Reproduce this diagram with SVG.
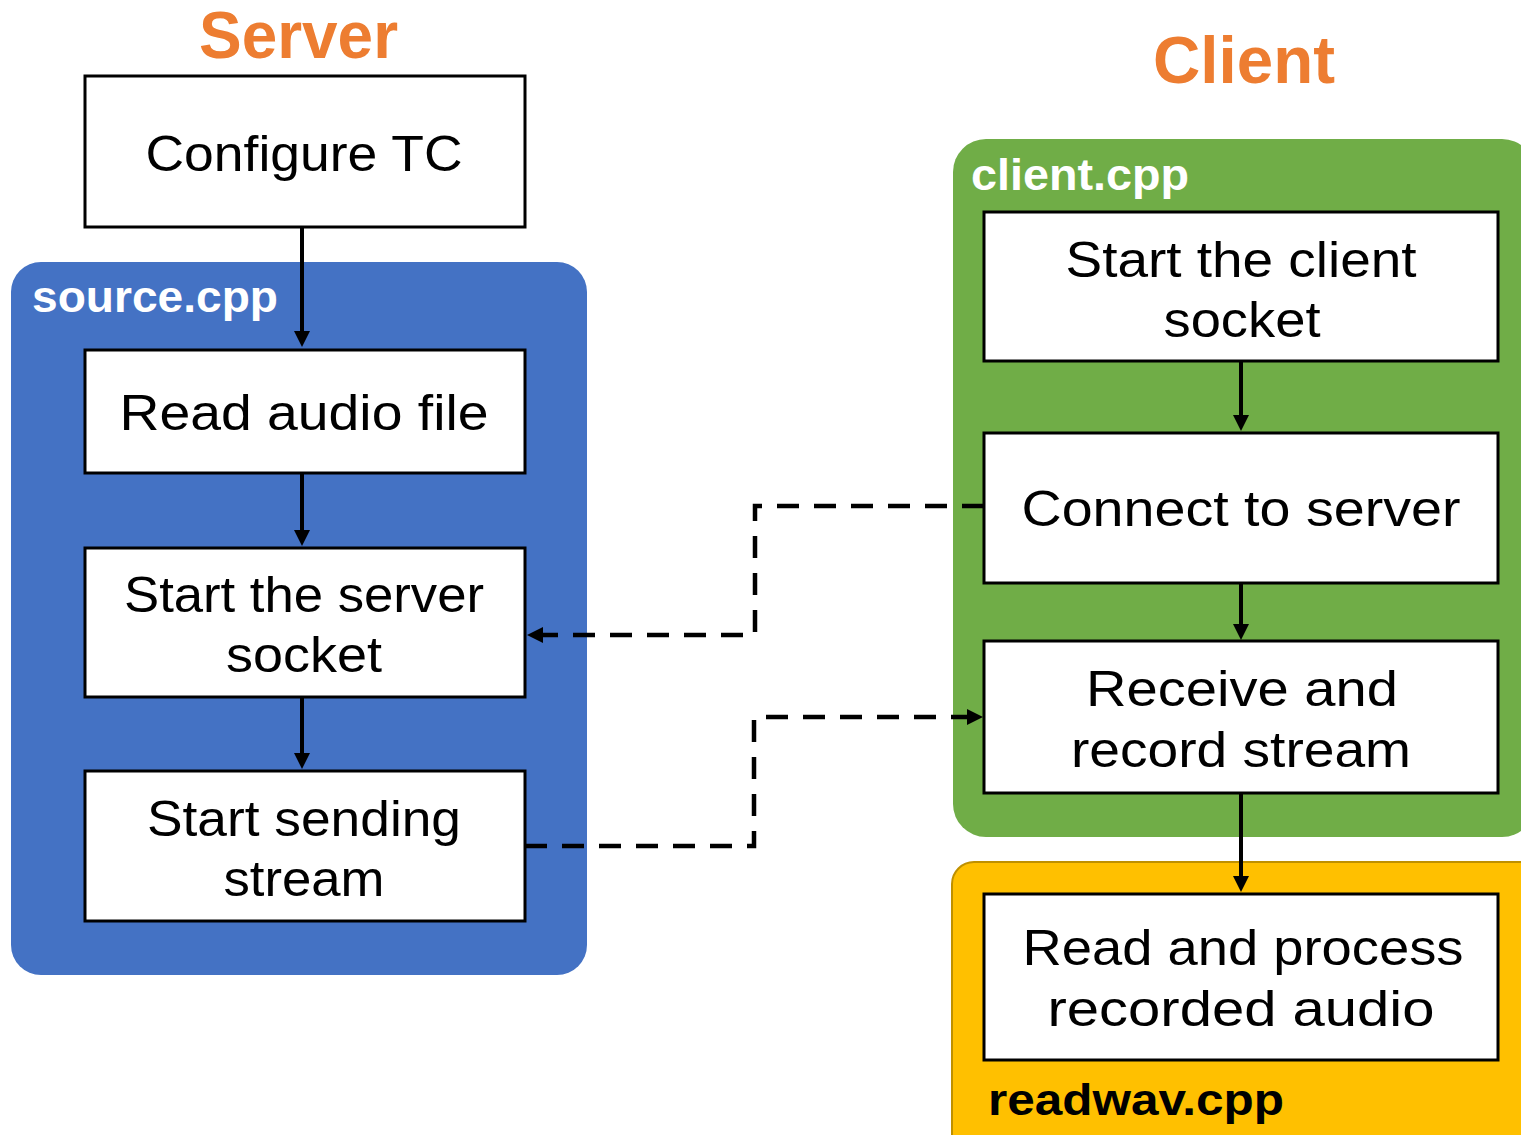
<svg xmlns="http://www.w3.org/2000/svg" width="1521" height="1135" viewBox="0 0 1521 1135">
  <style>
    .box { fill: #ffffff; stroke: #000000; stroke-width: 3; }
    .lbl { font-family: "Liberation Sans", Arial, sans-serif; font-size: 50px; fill: #000000; text-anchor: middle; }
    .title { font-family: "Liberation Sans", Arial, sans-serif; font-weight: bold; font-size: 67px; fill: #ED7D31; }
    .file { font-family: "Liberation Sans", Arial, sans-serif; font-weight: bold; font-size: 45px; }
    .solid { fill: none; stroke: #000000; stroke-width: 4; marker-end: url(#arr); }
    .dash { fill: none; stroke: #000000; stroke-width: 4.5; stroke-dasharray: 22 15; marker-end: url(#arr); }
  </style>
  <defs>
    <marker id="arr" markerUnits="userSpaceOnUse" markerWidth="16" markerHeight="16" refX="0" refY="8" orient="auto" viewBox="0 0 16 16">
      <path d="M0,0 L16,8 L0,16 z" fill="#000000"/>
    </marker>
  </defs>

  <rect width="1521" height="1135" fill="#ffffff"/>

  <g id="containers">
    <rect id="source-cpp" x="11" y="262" width="576" height="713" rx="30" ry="30" fill="#4472C4"/>
    <rect id="client-cpp" x="953" y="139" width="582" height="698" rx="33" ry="33" fill="#70AD47"/>
    <rect id="readwav-cpp" x="952" y="862" width="600" height="300" rx="22" ry="22" fill="#FFC000" stroke="#BF9000" stroke-width="2"/>
  </g>

  <g id="titles">
    <text class="title" x="199" y="58" font-size="62" textLength="199" lengthAdjust="spacingAndGlyphs">Server</text>
    <text class="title" x="1153" y="83" textLength="182" lengthAdjust="spacingAndGlyphs">Client</text>
    <text class="file" x="32" y="312" fill="#ffffff" textLength="246" lengthAdjust="spacingAndGlyphs">source.cpp</text>
    <text class="file" x="971" y="190" fill="#ffffff" textLength="218" lengthAdjust="spacingAndGlyphs">client.cpp</text>
    <text class="file" x="988" y="1115" fill="#000000" textLength="296" lengthAdjust="spacingAndGlyphs">readwav.cpp</text>
  </g>

  <g id="connectors">
    <path class="solid" d="M302,228 V331"/>
    <path class="solid" d="M302,473 V530"/>
    <path class="solid" d="M302,697 V753"/>
    <path class="solid" d="M1241,361 V415"/>
    <path class="solid" d="M1241,583 V624"/>
    <path class="solid" d="M1241,793 V876"/>
    <path class="dash" d="M984,506 H755 V635 H543"/>
    <path class="dash" d="M525,846 H754 V717 H967"/>
  </g>

  <g id="configure-tc">
    <rect class="box" x="85" y="76" width="440" height="151"/>
    <text class="lbl" x="304" y="171" textLength="317" lengthAdjust="spacingAndGlyphs">Configure TC</text>
  </g>
  <g id="read-audio-file">
    <rect class="box" x="85" y="350" width="440" height="123"/>
    <text class="lbl" x="304" y="430" textLength="369" lengthAdjust="spacingAndGlyphs">Read audio file</text>
  </g>
  <g id="start-server-socket">
    <rect class="box" x="85" y="548" width="440" height="149"/>
    <text class="lbl" x="304" y="612" textLength="360" lengthAdjust="spacingAndGlyphs">Start the server</text>
    <text class="lbl" x="304" y="672" textLength="156" lengthAdjust="spacingAndGlyphs">socket</text>
  </g>
  <g id="start-sending-stream">
    <rect class="box" x="85" y="771" width="440" height="150"/>
    <text class="lbl" x="304" y="836" textLength="314" lengthAdjust="spacingAndGlyphs">Start sending</text>
    <text class="lbl" x="304" y="896" textLength="161" lengthAdjust="spacingAndGlyphs">stream</text>
  </g>

  <g id="start-client-socket">
    <rect class="box" x="984" y="212" width="514" height="149"/>
    <text class="lbl" x="1241" y="277" textLength="351" lengthAdjust="spacingAndGlyphs">Start the client</text>
    <text class="lbl" x="1242" y="337" textLength="157" lengthAdjust="spacingAndGlyphs">socket</text>
  </g>
  <g id="connect-to-server">
    <rect class="box" x="984" y="433" width="514" height="150"/>
    <text class="lbl" x="1241" y="526" textLength="439" lengthAdjust="spacingAndGlyphs">Connect to server</text>
  </g>
  <g id="receive-record-stream">
    <rect class="box" x="984" y="641" width="514" height="152"/>
    <text class="lbl" x="1242" y="706" textLength="312" lengthAdjust="spacingAndGlyphs">Receive and</text>
    <text class="lbl" x="1241" y="767" textLength="340" lengthAdjust="spacingAndGlyphs">record stream</text>
  </g>
  <g id="read-process-audio">
    <rect class="box" x="984" y="894" width="514" height="166"/>
    <text class="lbl" x="1243" y="965" textLength="441" lengthAdjust="spacingAndGlyphs">Read and process</text>
    <text class="lbl" x="1241" y="1026" textLength="387" lengthAdjust="spacingAndGlyphs">recorded audio</text>
  </g>
</svg>
